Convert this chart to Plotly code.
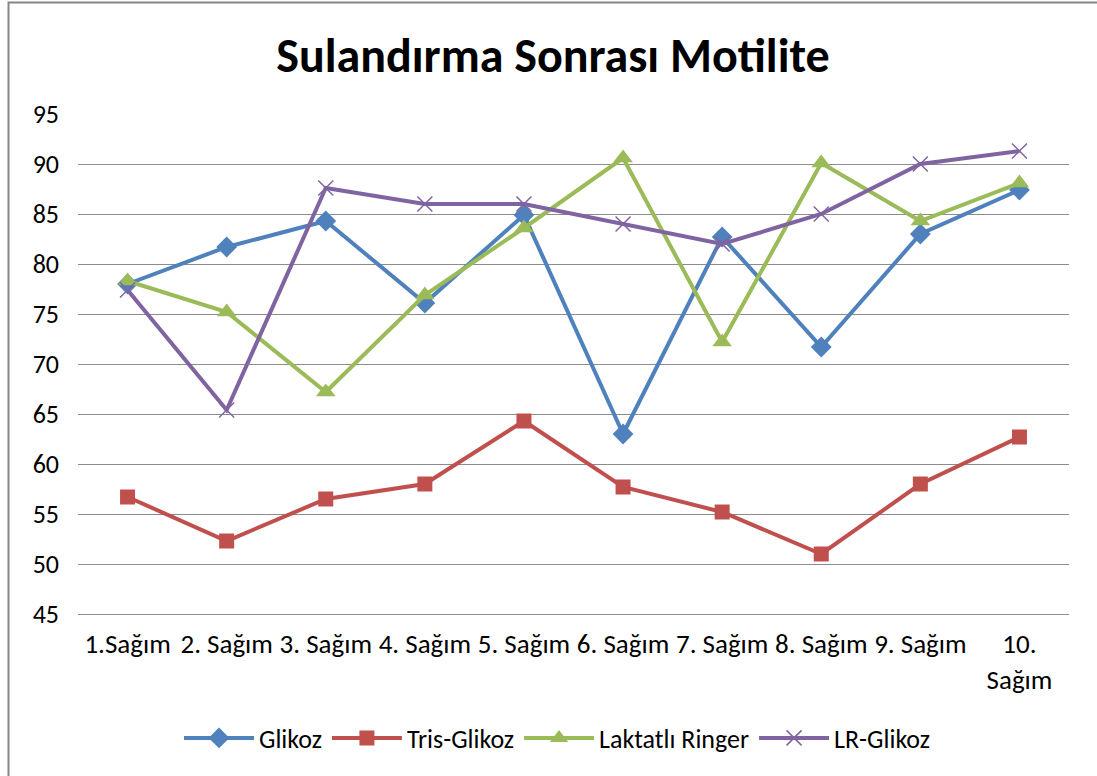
import plotly.graph_objects as go

categories = ["1.Sağım", "2. Sağım", "3. Sağım", "4. Sağım", "5. Sağım",
              "6. Sağım", "7. Sağım", "8. Sağım", "9. Sağım", "10.<br>Sağım"]
glikoz = [78.0, 81.7, 84.3, 76.1, 84.9, 63.0, 82.7, 71.7, 83.0, 87.4]
tris_glikoz = [56.7, 52.3, 56.5, 58.0, 64.3, 57.7, 55.2, 51.0, 58.0, 62.7]
laktatli_ringer = [78.3, 75.2, 67.2, 76.9, 83.6, 90.6, 72.2, 90.1, 84.3, 88.1]
lr_glikoz = [77.4, 65.4, 87.6, 86.0, 86.0, 84.0, 82.0, 85.0, 90.0, 91.3]
y_ticks = [45, 50, 55, 60, 65, 70, 75, 80, 85, 90, 95]

x = list(range(len(categories)))
FONT = "Carlito, Calibri, Lato, sans-serif"

fig = go.Figure()
fig.add_trace(go.Scatter(x=x, y=glikoz, name="Glikoz", mode="lines+markers",
                         line=dict(color="#4F81BD", width=4),
                         marker=dict(symbol="diamond", size=16, color="#4F81BD")))
fig.add_trace(go.Scatter(x=x, y=tris_glikoz, name="Tris-Glikoz", mode="lines+markers",
                         line=dict(color="#C0504D", width=4),
                         marker=dict(symbol="square", size=15, color="#C0504D")))
fig.add_trace(go.Scatter(x=x, y=laktatli_ringer, name="Laktatlı Ringer", mode="lines+markers",
                         line=dict(color="#9BBB59", width=4),
                         marker=dict(symbol="triangle-up", size=17, color="#9BBB59")))
fig.add_trace(go.Scatter(x=x, y=lr_glikoz, name="LR-Glikoz", mode="lines+markers",
                         line=dict(color="#8064A2", width=4),
                         marker=dict(symbol="x-thin", size=15, color="#8064A2",
                                     line=dict(color="#8064A2", width=1.5))))

L, R, T, B = 78, 28, 114, 162
W, H = 1097, 776
pw, ph = W - L - R, H - T - B

fig.update_layout(
    width=W, height=H,
    margin=dict(l=L, r=R, t=T, b=B),
    paper_bgcolor="white", plot_bgcolor="white",
    font=dict(family=FONT, size=26, color="black"),
    title=dict(text="<b>Sulandırma Sonrası Motilite</b>", x=553 / W, xanchor="center",
               y=1 - 55 / H, yanchor="middle", font=dict(size=48, family=FONT)),
    xaxis=dict(tickmode="array", tickvals=x, ticktext=categories,
               range=[-0.5, len(categories) - 0.5], showgrid=False, zeroline=False,
               showline=True, linecolor="#8C8C8C", linewidth=1, ticks="",
               tickfont=dict(size=27), ticklabelstandoff=6),
    yaxis=dict(tickmode="array", tickvals=y_ticks, range=[45, 95],
               showgrid=True, gridcolor="#8C8C8C", gridwidth=1, zeroline=False,
               showline=False, ticks="", tickfont=dict(size=26), ticklabelstandoff=18),
    legend=dict(orientation="h", x=(557 - L) / pw, xanchor="center", y=-(738 - 614) / ph,
                yanchor="middle", font=dict(size=26), itemwidth=70),
    showlegend=True,
)

# chart border (left and top edges visible in the reference; right/bottom run off the page)
fig.add_shape(type="rect", xref="paper", yref="paper",
              x0=-(L - 8.5) / pw, x1=1 + (R + 20) / pw,
              y0=-(B + 20) / ph, y1=1 + (T - 2.5) / ph,
              line=dict(color="#868686", width=2), fillcolor="rgba(0,0,0,0)", layer="below")

fig.write_html("out.html", config={"displayModeBar": False},
               post_script="document.body.style.margin='0';")
